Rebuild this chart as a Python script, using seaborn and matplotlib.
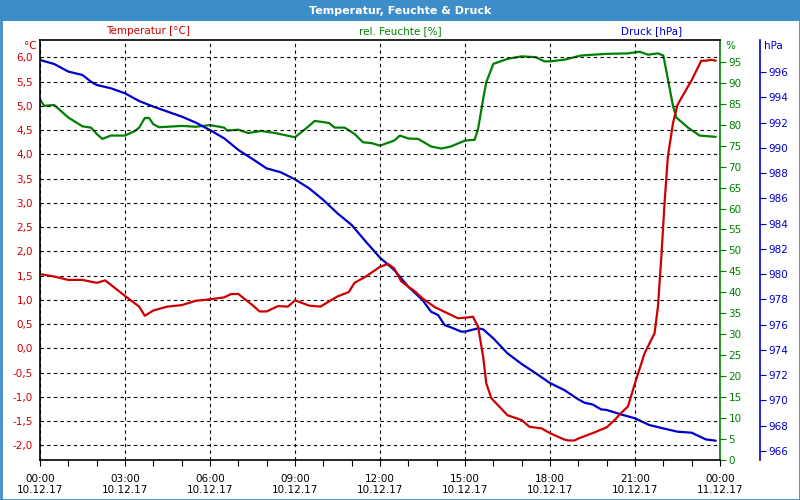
import numpy as np
import pandas as pd
import matplotlib
matplotlib.use('Agg')
import matplotlib.pyplot as plt
import seaborn as sns
from matplotlib.ticker import FixedLocator, MultipleLocator, FuncFormatter
from matplotlib.patches import Rectangle

# Temperature [°C] over the day (hours since 00:00)
temp_hours = [0, 0.5, 1, 1.5, 2, 2.3, 2.5, 3, 3.5, 3.7, 4, 4.5, 5, 5.5, 6,
              6.5, 6.75, 7, 7.5, 7.75, 8, 8.4, 8.75, 9, 9.5, 9.9, 10.5, 10.9, 11.1, 11.5,
              12, 12.28, 12.5, 12.75, 13, 13.2, 13.5, 13.93, 14.5, 14.75, 15, 15.28, 15.46,
              15.64, 15.75, 15.93, 16.5, 17, 17.28, 17.7, 18, 18.5, 18.64, 18.87, 19, 19.5,
              20, 20.28, 20.5, 20.75, 21, 21.34, 21.69, 21.81, 21.93, 22.05, 22.16, 22.34,
              22.5, 23, 23.34, 23.5, 23.7, 23.85]
temp_values = [1.53, 1.48, 1.41, 1.41, 1.35, 1.40, 1.31, 1.08, 0.86, 0.67, 0.78, 0.86, 0.89, 0.98, 1.01,
               1.05, 1.12, 1.12, 0.89, 0.76, 0.76, 0.87, 0.86, 0.99, 0.88, 0.86, 1.07, 1.16, 1.35, 1.48,
               1.68, 1.74, 1.65, 1.38, 1.27, 1.19, 1.03, 0.85, 0.69, 0.62, 0.63, 0.65, 0.45,
               -0.17, -0.72, -1.03, -1.38, -1.48, -1.62, -1.65, -1.75, -1.88, -1.90, -1.90, -1.86, -1.75,
               -1.63, -1.48, -1.34, -1.20, -0.72, -0.10, 0.31, 0.86, 1.89, 3.06, 3.95, 4.64,
               5.02, 5.53, 5.93, 5.93, 5.95, 5.93]

# Relative humidity [%]
hum_hours = [0, 0.15, 0.5, 1, 1.5, 1.8, 2, 2.2, 2.5, 3, 3.35, 3.5, 3.7, 3.85, 4, 4.2, 4.5, 5, 5.5, 6,
             6.5, 6.6, 7, 7.35, 7.8, 8.3, 9, 9.35, 9.7, 10.2, 10.4, 10.75, 11.1, 11.4, 11.7,
             12, 12.5, 12.7, 13, 13.35, 13.8, 14.17, 14.5, 15, 15.34, 15.46, 15.64, 15.75, 16,
             16.5, 17, 17.5, 17.8, 18, 18.5, 19.1, 20, 20.75, 21.16, 21.46, 21.81, 22, 22.16,
             22.34, 22.46, 22.87, 23.28, 23.85]
hum_values = [86.0, 84.5, 84.7, 81.7, 79.6, 79.3, 77.8, 76.6, 77.4, 77.4, 78.5, 79.3, 81.6, 81.6, 80.1,
              79.4, 79.5, 79.7, 79.5, 79.9, 79.3, 78.6, 78.8, 78.0, 78.5, 78.0, 77.0, 78.9, 80.9,
              80.4, 79.3, 79.3, 77.8, 75.8, 75.6, 75.0, 76.2, 77.4, 76.7, 76.6, 74.8, 74.3, 74.8,
              76.2, 76.4, 78.9, 86.1, 90.1, 94.5, 95.7, 96.3, 96.1, 95.1, 95.1, 95.5, 96.5, 96.9,
              97.0, 97.4, 96.7, 97.0, 96.5, 90.9, 84.5, 81.7, 79.3, 77.4, 77.1]

# Air pressure [hPa]
press_hours = [0, 0.5, 1, 1.5, 1.8, 2, 2.5, 3, 3.5, 4, 4.5, 5, 5.5, 6,
               6.5, 7, 7.5, 8, 8.5, 9, 9.5, 10, 10.5, 11, 11.5, 12,
               12.5, 13, 13.5, 13.8, 14.05, 14.28, 14.5, 14.87, 15, 15.46, 15.64, 16, 16.5, 17, 17.5,
               18, 18.5, 19, 19.22, 19.5, 19.8, 20, 20.5, 21, 21.5, 22, 22.5, 23, 23.5, 23.85]
press_values = [996.95, 996.63, 996.03, 995.76, 995.23, 994.97, 994.71, 994.31, 993.70, 993.26,
                992.86, 992.47, 991.99, 991.40, 990.75, 989.83, 989.11, 988.37, 988.06, 987.50,
                986.79, 985.87, 984.81, 983.89, 982.57, 981.30, 980.33, 979.00, 977.95, 977.03,
                976.76, 975.97, 975.79, 975.45, 975.45, 975.71, 975.63, 974.92, 973.73, 972.89,
                972.15, 971.38, 970.83, 970.09, 969.82, 969.69, 969.30, 969.25, 968.90, 968.59,
                968.06, 967.79, 967.53, 967.45, 966.92, 966.82]

hour_ticks = [0, 3, 6, 9, 12, 15, 18, 21, 24]
hour_labels = ['00:00\n10.12.17', '03:00\n10.12.17', '06:00\n10.12.17', '09:00\n10.12.17',
               '12:00\n10.12.17', '15:00\n10.12.17', '18:00\n10.12.17', '21:00\n10.12.17',
               '00:00\n11.12.17']
temp_ticks = [-2.0, -1.5, -1.0, -0.5, 0.0, 0.5, 1.0, 1.5, 2.0, 2.5, 3.0, 3.5, 4.0, 4.5, 5.0, 5.5, 6.0]
hum_ticks = list(range(0, 96, 5))
press_ticks = list(range(966, 997, 2))

RED = '#cc0000'
GREEN = '#008000'
BLUE = '#0000cc'
FRAME = '#3d8ec8'

sns.set_style('white')
plt.rcParams['font.family'] = ['DejaVu Sans']
plt.rcParams['font.size'] = 7.5

fig = plt.figure(figsize=(8, 5), dpi=100)
fig.patch.set_facecolor('white')

# window frame and title bar
fig.patches.append(Rectangle((0, 1 - 21 / 500), 1, 21 / 500, transform=fig.transFigure,
                             facecolor=FRAME, edgecolor='none', zorder=0))
fig.patches.append(Rectangle((0.5 / 800, 0.5 / 500), 1 - 1 / 800, 1 - 1 / 500, transform=fig.transFigure,
                             facecolor='none', edgecolor=FRAME, linewidth=2, zorder=0))
fig.text(0.5, 1 - 10.5 / 500, 'Temperatur, Feuchte & Druck', color='white', fontsize=8,
         fontweight='bold', ha='center', va='center')

ax = fig.add_axes([40 / 800, 40 / 500, 680 / 800, 420 / 500])
ax_h = ax.twinx()
ax_p = ax.twinx()
ax_p.spines['right'].set_position(('axes', 40 / 680 + 1))

df_t = pd.DataFrame({'h': temp_hours, 'v': temp_values})
df_h = pd.DataFrame({'h': hum_hours, 'v': hum_values})
df_p = pd.DataFrame({'h': press_hours, 'v': press_values})

sns.lineplot(data=df_t, x='h', y='v', ax=ax, color=RED, linewidth=1.6)
sns.lineplot(data=df_h, x='h', y='v', ax=ax_h, color=GREEN, linewidth=1.6)
sns.lineplot(data=df_p, x='h', y='v', ax=ax_p, color=BLUE, linewidth=1.6)

# temperature line above the twin axes
ax.set_zorder(3)
ax.patch.set_visible(False)
ax_h.set_zorder(1)
ax_p.set_zorder(2)

for a in (ax, ax_h, ax_p):
    a.set_xlabel('')
    a.set_ylabel('')
    a.set_xlim(0, 24)

# temperature axis
ax.set_ylim(-2.303, 6.357)
ax.yaxis.set_major_locator(FixedLocator(temp_ticks))
ax.yaxis.set_major_formatter(FuncFormatter(lambda v, p: f'{v:.1f}'.replace('.', ',')))
ax.tick_params(axis='y', colors=RED, length=0, pad=5, labelsize=7.5)
ax.grid(True, axis='y', color='black', linestyle=(0, (3, 3)), linewidth=0.8)

# time axis
ax.xaxis.set_major_locator(FixedLocator(hour_ticks))
ax.xaxis.set_minor_locator(MultipleLocator(1))
ax.set_xticklabels(hour_labels)
ax.tick_params(axis='x', which='both', direction='out', length=4, width=0.8, colors='black',
               labelsize=7.5, pad=6, bottom=True)
ax.grid(True, axis='x', which='major', color='black', linestyle=(0, (3, 3)), linewidth=0.8)
for s in ('left', 'top', 'bottom'):
    ax.spines[s].set_color('black')
    ax.spines[s].set_linewidth(1.2)
ax.spines['right'].set_visible(False)

# humidity axis
ax_h.set_ylim(0, 100.2)
ax_h.yaxis.set_major_locator(FixedLocator(hum_ticks))
ax_h.tick_params(axis='y', colors=GREEN, direction='out', length=4, width=0.8, labelsize=7.5, pad=2)
ax_h.spines['right'].set_color(GREEN)
ax_h.spines['right'].set_linewidth(1.2)
for s in ('left', 'top', 'bottom'):
    ax_h.spines[s].set_visible(False)

# pressure axis
ax_p.set_ylim(965.29, 998.53)
ax_p.yaxis.set_major_locator(FixedLocator(press_ticks))
ax_p.tick_params(axis='y', colors=BLUE, direction='out', length=4, width=0.8, labelsize=7.5, pad=2)
ax_p.spines['right'].set_color(BLUE)
ax_p.spines['right'].set_linewidth(1.2)
for s in ('left', 'top', 'bottom'):
    ax_p.spines[s].set_visible(False)

# header texts
fig.text(148 / 800, 1 - 31 / 500, 'Temperatur [°C]', color=RED, ha='center', va='center', fontsize=7.5)
fig.text(400 / 800, 1 - 31 / 500, 'rel. Feuchte [%]', color=GREEN, ha='center', va='center', fontsize=7.5)
fig.text(652 / 800, 1 - 31 / 500, 'Druck [hPa]', color=BLUE, ha='center', va='center', fontsize=7.5)
fig.text(37 / 800, 1 - 46 / 500, '°C', color=RED, ha='right', va='center', fontsize=7.5)
fig.text(725 / 800, 1 - 46 / 500, '%', color=GREEN, ha='left', va='center', fontsize=7.5)
fig.text(764 / 800, 1 - 46 / 500, 'hPa', color=BLUE, ha='left', va='center', fontsize=7.5)

fig.savefig('out.png', dpi=100, facecolor='white')
